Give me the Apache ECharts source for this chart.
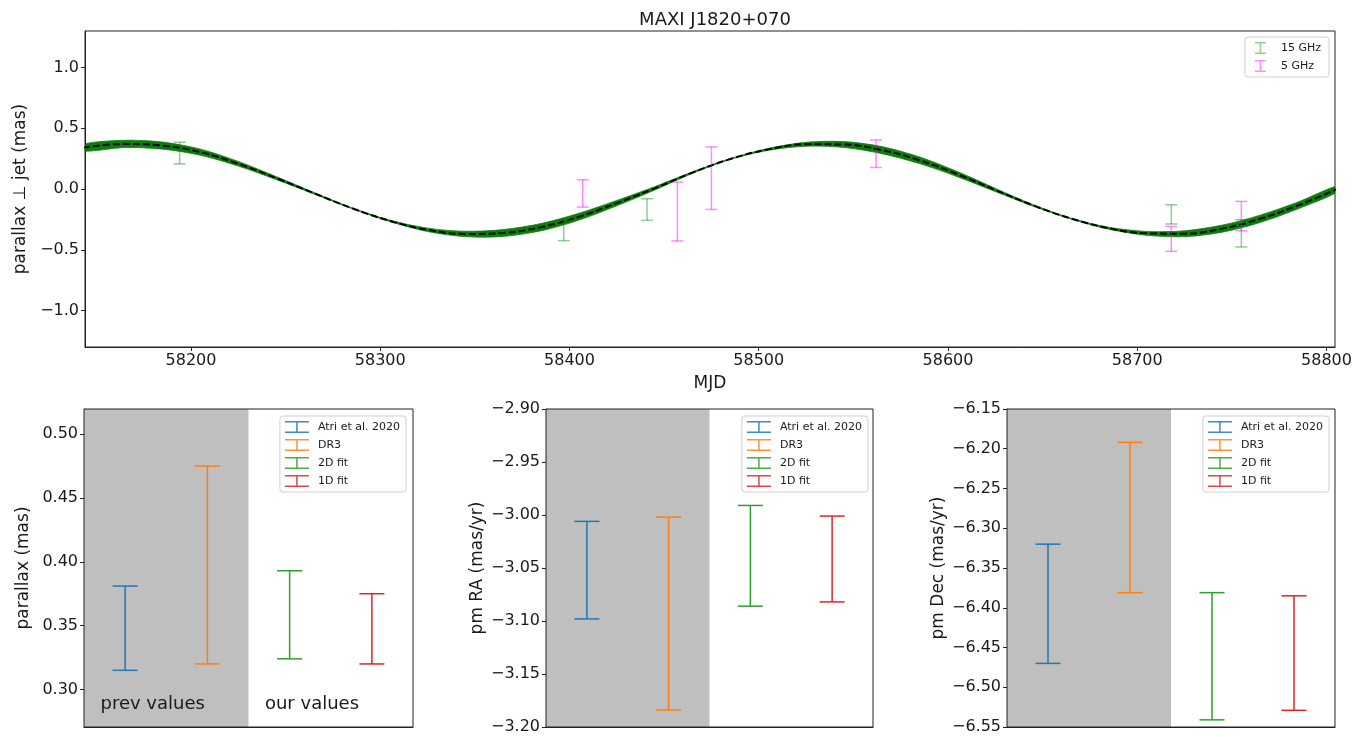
<!DOCTYPE html>
<html>
<head>
<meta charset="utf-8">
<title>MAXI J1820+070</title>
<script src="https://cdn.jsdelivr.net/npm/echarts@6.0.0/dist/echarts.min.js"></script>
<style>
html, body { margin: 0; padding: 0; background: #fff; }
#chart { width: 1371px; height: 737px; }
</style>
</head>
<body>
<div id="chart"></div>
<script>
// model curve, every 20 days
const mjdGrid = [58143, 58165, 58185, 58205, 58225, 58245, 58265, 58285, 58305, 58325,
  58345, 58365, 58385, 58405, 58425, 58445, 58465, 58485, 58505, 58525,
  58545, 58565, 58585, 58605, 58625, 58645, 58665, 58685, 58705, 58725,
  58745, 58765, 58785, 58806];
const fitCurve = [0.340, 0.371, 0.357, 0.303, 0.208, 0.090, -0.035, -0.158, -0.262, -0.336,
  -0.370, -0.362, -0.314, -0.228, -0.116, 0.005, 0.135, 0.247, 0.326, 0.368,
  0.366, 0.320, 0.236, 0.122, -0.008, -0.135, -0.243, -0.323, -0.365, -0.368,
  -0.326, -0.245, -0.135, 0.002];
const fitHalfWidth = [0.028, 0.030, 0.029, 0.025, 0.019, 0.012, 0.006, 0.003, 0.006, 0.014,
  0.022, 0.028, 0.030, 0.028, 0.022, 0.014, 0.006, 0.003, 0.008, 0.016,
  0.024, 0.029, 0.027, 0.021, 0.013, 0.006, 0.003, 0.008, 0.016, 0.024,
  0.029, 0.030, 0.028, 0.025];

// VLBI points
const ghz15Mjd = [58194, 58397, 58441, 58718, 58755];
const ghz15Lo = [0.207, -0.425, -0.258, -0.288, -0.477];
const ghz15Hi = [0.385, -0.255, -0.080, -0.130, -0.253];
const ghz5Mjd = [58407, 58457, 58475, 58562, 58718, 58755];
const ghz5Lo = [-0.149, -0.428, -0.168, 0.177, -0.513, -0.343];
const ghz5Hi = [0.076, 0.057, 0.346, 0.404, -0.308, -0.102];

// comparison panels
const methods = ['Atri et al. 2020', 'DR3', '2D fit', '1D fit'];
const methodColors = ['#1f77b4', '#ff7f0e', '#2ca02c', '#d62728'];
const parallaxLo = [0.315, 0.320, 0.324, 0.320];
const parallaxHi = [0.381, 0.475, 0.393, 0.375];
const pmRaLo = [-3.098, -3.184, -3.086, -3.082];
const pmRaHi = [-3.006, -3.002, -2.991, -3.001];
const pmDecLo = [-6.470, -6.381, -6.541, -6.529];
const pmDecHi = [-6.320, -6.192, -6.381, -6.385];
const regionText = ['prev values', 'our values'];

const topXTicks = [58200, 58300, 58400, 58500, 58600, 58700, 58800];
const topYTicks = [-1.0, -0.5, 0.0, 0.5, 1.0];
const parallaxTicks = [0.30, 0.35, 0.40, 0.45, 0.50];
const pmRaTicks = [-3.20, -3.15, -3.10, -3.05, -3.00, -2.95, -2.90];
const pmDecTicks = [-6.55, -6.50, -6.45, -6.40, -6.35, -6.30, -6.25, -6.20, -6.15];

const FONT = 'DejaVu Sans';
const INK = '#1a1a1a';

function minus(s) { return s.replace('-', '\u2212'); }

function errorBar(capHalf, width) {
  return function (params, api) {
    let x = api.value(0);
    let lo = api.coord([x, api.value(1)]);
    let hi = api.coord([x, api.value(2)]);
    let style = { stroke: api.visual('color'), lineWidth: width, fill: null };
    return {
      type: 'group',
      children: [
        { type: 'line', shape: { x1: lo[0], y1: lo[1], x2: hi[0], y2: hi[1] }, style: style },
        { type: 'line', shape: { x1: lo[0] - capHalf, y1: lo[1], x2: lo[0] + capHalf, y2: lo[1] }, style: style },
        { type: 'line', shape: { x1: hi[0] - capHalf, y1: hi[1], x2: hi[0] + capHalf, y2: hi[1] }, style: style }
      ]
    };
  };
}

// uncertainty band of the fit, one polygon: upper edge forward, lower edge back
function fitBand(params, api) {
  let upper = mjdGrid.map((t, i) => api.coord([t, fitCurve[i] + fitHalfWidth[i]]));
  let lower = mjdGrid.map((t, i) => api.coord([t, fitCurve[i] - fitHalfWidth[i]])).reverse();
  return {
    type: 'polygon',
    shape: { points: upper.concat(lower), smooth: 0.3 },
    style: { fill: '#0a800a', stroke: '#0a800a', lineWidth: 0.8 }
  };
}

// grey "previous values" block, from x=-0.5 to 1.5, full height
function shadeRegion(params, api) {
  let a = api.coord([api.value(0), 0]);
  let b = api.coord([api.value(1), 0]);
  let cs = params.coordSys;
  return {
    type: 'rect',
    shape: { x: a[0], y: cs.y, width: b[0] - a[0], height: cs.height },
    style: { fill: '#bfbfbf' }
  };
}

function regionLabel(params, api) {
  let p = api.coord([api.value(0), api.value(1)]);
  return {
    type: 'text',
    x: p[0], y: p[1],
    style: { text: regionText[params.dataIndex], fontFamily: FONT, fontSize: 18, fill: INK, align: 'left', verticalAlign: 'bottom' }
  };
}

function valueAxis(grid, min, max, ticks, digits, extra) {
  return Object.assign({
    type: 'value', gridIndex: grid, min: min, max: max, scale: true,
    splitLine: { show: false },
    axisLine: { show: true, onZero: false, lineStyle: { color: '#222', width: 1 } },
    axisTick: { show: true, length: 4, customValues: ticks, lineStyle: { color: '#222' } },
    axisLabel: {
      show: true, customValues: ticks, margin: 6, color: INK, fontFamily: FONT, fontSize: 16,
      formatter: v => minus(digits === null ? String(v) : v.toFixed(digits))
    },
    nameTextStyle: { color: INK, fontFamily: FONT, fontSize: 17 }
  }, extra || {});
}

function flatXAxis(grid) {
  return {
    type: 'value', gridIndex: grid, min: -0.5, max: 3.5,
    splitLine: { show: false },
    axisLine: { show: true, onZero: false, lineStyle: { color: '#222' } },
    axisTick: { show: false }, axisLabel: { show: false }
  };
}

const legendIconV = 'path://M0,0H11V1.5H0Z M4.75,0H6.25V12H4.75Z M0,10.5H11V12H0Z';
const legendIconW = 'path://M0,0H24V1.5H0Z M11.25,0H12.75V12H11.25Z M0,10.5H24V12H0Z';

function methodLegend(right) {
  return {
    data: methods, orient: 'vertical', right: right, top: 416,
    icon: legendIconW, itemWidth: 24, itemHeight: 12, itemGap: 6,
    padding: [5, 6, 5, 5],
    backgroundColor: 'rgba(255,255,255,0.85)', borderColor: '#d0d0d0', borderWidth: 1, borderRadius: 3,
    itemStyle: { borderWidth: 0 },
    textStyle: { color: INK, fontFamily: FONT, fontSize: 11, padding: [0, 0, 0, 4] },
    selectedMode: false
  };
}

let chart = echarts.init(document.getElementById('chart'));

let series = [
  {
    name: 'band', type: 'custom', xAxisIndex: 0, yAxisIndex: 0, z: 2, silent: true, clip: true,
    renderItem: fitBand, encode: { x: 0, y: 1 }, data: [[mjdGrid[0], fitCurve[0]]]
  },
  {
    name: 'fit', type: 'line', xAxisIndex: 0, yAxisIndex: 0, smooth: 0.4, symbol: 'none', z: 3,
    lineStyle: { color: '#000', width: 2, type: [7, 3] },
    data: mjdGrid.map((t, i) => [t, fitCurve[i]])
  },
  {
    name: '15 GHz', type: 'custom', xAxisIndex: 0, yAxisIndex: 0, z: 4,
    itemStyle: { color: 'rgba(0,128,0,0.42)' },
    renderItem: errorBar(6, 1.5), encode: { x: 0, y: [1, 2] },
    data: ghz15Mjd.map((t, i) => [t, ghz15Lo[i], ghz15Hi[i]])
  },
  {
    name: '5 GHz', type: 'custom', xAxisIndex: 0, yAxisIndex: 0, z: 4,
    itemStyle: { color: 'rgba(255,0,255,0.45)' },
    renderItem: errorBar(6, 1.5), encode: { x: 0, y: [1, 2] },
    data: ghz5Mjd.map((t, i) => [t, ghz5Lo[i], ghz5Hi[i]])
  }
];

const panels = [[parallaxLo, parallaxHi], [pmRaLo, pmRaHi], [pmDecLo, pmDecHi]];
panels.forEach((p, k) => {
  series.push({
    name: 'shade' + k, type: 'custom', xAxisIndex: k + 1, yAxisIndex: k + 1, z: 1, silent: true,
    renderItem: shadeRegion, encode: { x: [0, 1] }, data: [[-0.5, 1.5]]
  });
  methods.forEach((m, i) => {
    series.push({
      name: m, type: 'custom', xAxisIndex: k + 1, yAxisIndex: k + 1, z: 4,
      itemStyle: { color: methodColors[i], opacity: 0.85 },
      renderItem: errorBar(12.5, 1.5), encode: { x: 0, y: [1, 2] },
      data: [[i, p[0][i], p[1][i]]]
    });
  });
});
series.push({
  name: 'regions', type: 'custom', xAxisIndex: 1, yAxisIndex: 1, z: 5, silent: true,
  renderItem: regionLabel, encode: { x: 0, y: 1 }, data: [[-0.3, 0.281], [1.7, 0.281]]
});

let gridStyle = { show: true, borderColor: '#222', borderWidth: 1, backgroundColor: 'transparent', z: 6 };

let option = {
  animation: false,
  backgroundColor: '#fff',
  title: {
    text: 'MAXI J1820+070', left: 710, top: 6, textAlign: 'center',
    textStyle: { color: INK, fontFamily: FONT, fontSize: 18, fontWeight: 'normal' }
  },
  legend: [
    {
      data: ['15 GHz', '5 GHz'], orient: 'vertical', right: 42, top: 37,
      icon: legendIconV, itemWidth: 11, itemHeight: 12, itemGap: 6,
      padding: [5, 8, 5, 10],
      backgroundColor: 'rgba(255,255,255,0.85)', borderColor: '#d0d0d0', borderWidth: 1, borderRadius: 3,
      itemStyle: { borderWidth: 0 },
      textStyle: { color: INK, fontFamily: FONT, fontSize: 11, padding: [0, 0, 0, 10] },
      selectedMode: false
    },
    methodLegend(965),
    methodLegend(503),
    methodLegend(42)
  ],
  grid: [
    Object.assign({ left: 85, top: 31, width: 1250, height: 316 }, gridStyle),
    Object.assign({ left: 84, top: 409, width: 329, height: 318 }, gridStyle),
    Object.assign({ left: 546, top: 409, width: 327, height: 318 }, gridStyle),
    Object.assign({ left: 1007, top: 409, width: 328, height: 318 }, gridStyle)
  ],
  xAxis: [
    valueAxis(0, 58144, 58804.5, topXTicks, null, { name: 'MJD', nameLocation: 'middle', nameGap: 28 }),
    flatXAxis(1), flatXAxis(2), flatXAxis(3)
  ],
  yAxis: [
    valueAxis(0, -1.3, 1.3, topYTicks, 1, { name: 'parallax \u22a5 jet (mas)', nameLocation: 'middle', nameGap: 52 }),
    valueAxis(1, 0.2706, 0.5197, parallaxTicks, 2, { name: 'parallax (mas)', nameLocation: 'middle', nameGap: 52 }),
    valueAxis(2, -3.2, -2.9, pmRaTicks, 2, { name: 'pm RA (mas/yr)', nameLocation: 'middle', nameGap: 60 }),
    valueAxis(3, -6.55, -6.15, pmDecTicks, 2, { name: 'pm Dec (mas/yr)', nameLocation: 'middle', nameGap: 60 })
  ],
  series: series
};

chart.setOption(option);
</script>
</body>
</html>
